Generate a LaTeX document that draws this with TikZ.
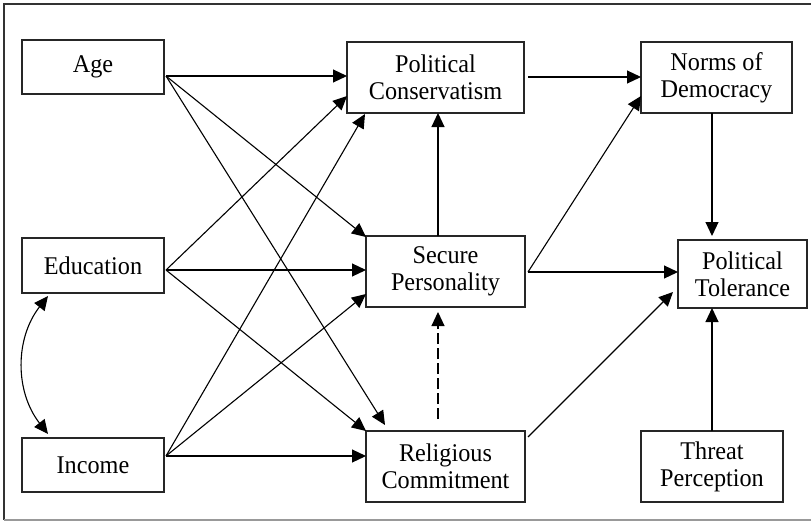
\documentclass[tikz,border=0pt]{standalone}
\usepackage{fontspec}
\setmainfont{Liberation Serif}[FakeStretch=0.95]
\usetikzlibrary{arrows.meta,calc}
\begin{document}
\begin{tikzpicture}[x=1pt,y=-1pt,
  box/.style={draw=black!85,line width=1.3pt,minimum width=#1,inner sep=0pt,align=center,
    font=\fontsize{25.5}{27}\selectfont},
  conn/.style={line width=1.1pt,-{Triangle[length=14pt,width=13pt]}},
  frameline/.style={line width=1.5pt}]
\useasboundingbox (0,0) rectangle (811,522);
\draw[frameline,black!80] (812,4) -- (4,4) -- (4,520);
\draw[frameline,black!40] (4,520) -- (812,520);
% nodes
\node[box=142pt,minimum height=54pt] (age) at (93,67) {Age};
\node[box=142pt,minimum height=55pt] (edu) at (93,265.5) {Education};
\node[box=142pt,minimum height=54pt] (inc) at (93,465) {Income};
\node[box=177pt,minimum height=71pt] (pc) at (435.5,77.5) {Political\\Conservatism};
\node[box=159pt,minimum height=71pt] (sec) at (445.5,271.5) {Secure\\Personality};
\node[box=159pt,minimum height=71pt] (rel) at (445.5,466.5) {Religious\\Commitment};
\node[box=151pt,minimum height=71pt] (nod) at (716.5,77.5) {Norms of\\Democracy};
\node[box=129pt,minimum height=68pt] (pt) at (742.5,274) {Political\\Tolerance};
\node[box=142pt,minimum height=71pt] (thr) at (712,466.5) {Threat\\Perception};
% anchor points
\coordinate (aS) at (166,76);
\coordinate (eS) at (166,270);
\coordinate (iS) at (166,456);
\coordinate (pcW) at (347,76);
\coordinate (pcE) at (347,96);
\coordinate (pcI) at (365,114);
\coordinate (secA) at (366,237);
\coordinate (secW) at (366,270);
\coordinate (secI) at (366,294);
\coordinate (relA) at (385,425);
\coordinate (relE) at (366,431);
\coordinate (relW) at (366,456);
\coordinate (pcOut) at (528,77);
\coordinate (nodW) at (641,77);
\coordinate (secN) at (438,236);
\coordinate (pcS) at (438,113);
\coordinate (relN) at (438,419);
\coordinate (secS) at (438,312);
\coordinate (secOut) at (528,272);
\coordinate (nodSW) at (641,96);
\coordinate (ptW) at (678,272);
\coordinate (relOut) at (528,437);
\coordinate (ptSW) at (673,292);
\coordinate (nodS) at (712,113);
\coordinate (ptN) at (712,236);
\coordinate (thrN) at (712,431);
\coordinate (ptS) at (712,308);
\coordinate (eduB) at (48,296);
\coordinate (incT) at (48,434);
% edges
\draw[conn] (aS) -- (pcW);
\draw[conn] (aS) -- (secA);
\draw[conn] (aS) -- (relA);
\draw[conn] (eS) -- (pcE);
\draw[conn] (eS) -- (secW);
\draw[conn] (eS) -- (relE);
\draw[conn] (iS) -- (pcI);
\draw[conn] (iS) -- (secI);
\draw[conn] (iS) -- (relW);
\draw[conn] (pcOut) -- (nodW);
\draw[conn] (secN) -- (pcS);
\draw[conn,dash pattern=on 11pt off 4pt] (relN) -- (secS);
\draw[conn] (secOut) -- (nodSW);
\draw[conn] (secOut) -- (ptW);
\draw[conn] (relOut) -- (ptSW);
\draw[conn] (nodS) -- (ptN);
\draw[conn] (thrN) -- (ptS);
\draw[line width=1.1pt,{Triangle[length=14pt,width=13pt]}-{Triangle[length=14pt,width=13pt]}] (eduB) to[bend right=38] (incT);
\end{tikzpicture}
\end{document}
